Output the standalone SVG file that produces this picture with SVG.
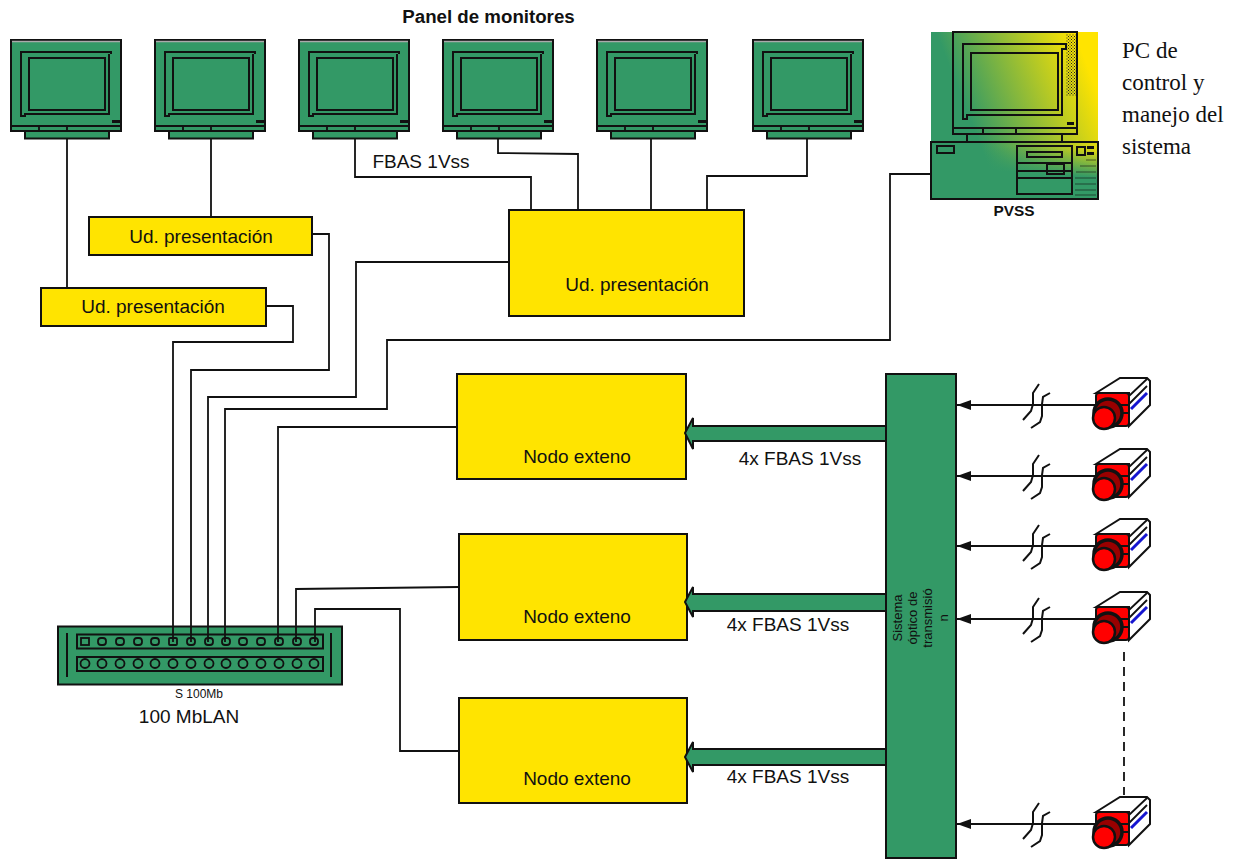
<svg xmlns="http://www.w3.org/2000/svg" width="1241" height="860" viewBox="0 0 1241 860">
<style>
.s{font-family:"Liberation Sans",Arial,sans-serif;fill:#111}
.y{fill:#ffe400;stroke:#111;stroke-width:2}
.g{fill:#339966;stroke:#111;stroke-width:2}
.l{fill:none;stroke:#111;stroke-width:1.8}
.k{fill:none;stroke:#111;stroke-width:2}
.t{font-size:19px}
</style>
<defs>
<linearGradient id="pcg" gradientUnits="userSpaceOnUse" x1="945" y1="55" x2="1065" y2="8"><stop offset="0" stop-color="#339966"/><stop offset="1" stop-color="#ffe400"/></linearGradient>
<linearGradient id="pcb" x1="0" y1="1" x2="0.2" y2="0"><stop offset="0.55" stop-color="#339966"/><stop offset="1" stop-color="#339966" stop-opacity="0"/></linearGradient>
<marker id="ah" markerWidth="14" markerHeight="10" refX="14" refY="5" orient="auto" markerUnits="userSpaceOnUse"><path d="M0,0L14,5L0,10Z" fill="#111"/></marker>
<pattern id="dith" width="3" height="3" patternUnits="userSpaceOnUse"><rect width="1" height="1" fill="#222"/><rect x="1.5" y="1.5" width="1" height="1" fill="#222"/></pattern>
<g id="mon">
<rect x="25" y="130" width="84" height="8.500" class="g"/>
<rect x="11" y="40" width="110" height="91" class="g"/>
<path d="M12,41.500H120" stroke="#aaa" stroke-width="1.500"/>
<path d="M11,126H121M39,126V131M67,126V131" class="l"/>
<path d="M111,54V52H21V116H25V114H109V54" class="k"/>
<rect x="29" y="58" width="76" height="52" class="k"/>
<rect x="112" y="120" width="8" height="3" fill="#111"/>
</g>
<g id="cam">
<path d="M1096,-12L1120,-27H1147L1150,-24V0L1129,21V-12Z" fill="#fff" stroke="#111" stroke-width="2"/>
<path d="M1129,-9L1147,-26M1129,-1L1147,-19" class="l"/>
<path d="M1131,4L1147,-12" stroke="#1515d0" stroke-width="3"/>
<rect x="1096" y="-12" width="33" height="33" rx="3" fill="#ff0000" stroke="#111" stroke-width="2"/>
<path d="M1096,0H1129M1122,8H1129" class="l"/>
<circle cx="1108" cy="8" r="14" fill="#900" stroke="#111" stroke-width="3.500"/>
<circle cx="1104" cy="13" r="11" fill="#ff0000" stroke="#111" stroke-width="2.500"/>
</g>
<g id="brk">
<path d="M1039,-21L1033,-12V-1L1031,6L1023,15M1050,-12L1043,-8L1042,-1V11L1040,17L1031,23" class="k"/>
</g>
</defs>
<rect width="1241" height="860" fill="#fff"/>

<g id="monitors">
<use href="#mon" id="monitor1"/>
<use href="#mon" x="144" id="monitor2"/>
<use href="#mon" x="288" id="monitor3"/>
<use href="#mon" x="432" id="monitor4"/>
<use href="#mon" x="586" id="monitor5"/>
<use href="#mon" x="742" id="monitor6"/>
<text x="488.500" y="23" class="s" font-size="18.700" font-weight="bold" text-anchor="middle">Panel de monitores</text>
</g>

<g id="pc">
<rect x="931" y="32" width="167" height="167" fill="url(#pcg)"/>
<rect x="931" y="142" width="167" height="57" fill="url(#pcb)"/>
<rect x="1066" y="34" width="12" height="62" fill="url(#dith)"/>
<rect x="953" y="32" width="124" height="102" class="k"/>
<path d="M1066,49V44H963V119H967V115H1062V49Z" class="k"/>
<rect x="971" y="53" width="87" height="57" class="k"/>
<path d="M953,128H1077M983,128V134M1016,128V134M967,134V142M1062,134V142" class="k"/>
<rect x="931" y="142" width="167" height="57" class="k"/>
<rect x="937" y="146" width="17" height="7" class="k"/>
<rect x="1017" y="146" width="55" height="48" class="k"/>
<rect x="1027" y="152" width="35" height="5" class="k"/>
<path d="M1017,163H1072M1017,171H1072M1017,178H1072" class="k"/>
<rect x="1047" y="164" width="17" height="10" class="k"/>
<rect x="1077" y="147" width="8" height="8" class="k"/>
<rect x="1087" y="146" width="7" height="3" fill="#111"/>
<rect x="1087" y="152" width="7" height="3" fill="#111"/>
<rect x="1067" y="122" width="7" height="3" fill="#111"/>
<path d="M1086,160H1096M1080,166H1096M1076,172H1096M1075,178H1096M1075,184H1096M1075,190H1096M1075,195H1096" stroke="#111" stroke-width=".6"/>
<text x="1014" y="216" class="s" font-size="15.400" font-weight="bold" text-anchor="middle">PVSS</text>
<g font-family="'Liberation Serif','Times New Roman',serif" font-size="23" fill="#111">
<text x="1122" y="58">PC de</text>
<text x="1122" y="90">control y</text>
<text x="1122" y="122">manejo del</text>
<text x="1122" y="154">sistema</text>
</g>
</g>

<g id="presentacion-1"><rect x="41" y="288" width="225" height="38" class="y"/><text x="153" y="313" class="s t" text-anchor="middle">Ud. presentación</text></g>
<g id="presentacion-2"><rect x="89" y="217" width="223" height="38" class="y"/><text x="201" y="243" class="s t" text-anchor="middle">Ud. presentación</text></g>
<g id="presentacion-3"><rect x="509" y="210" width="235" height="106" class="y"/><text x="637" y="291" class="s t" text-anchor="middle">Ud. presentación</text></g>

<g id="nodo-1"><rect x="457" y="374" width="229" height="105" class="y"/><text x="577" y="463" class="s t" text-anchor="middle">Nodo exteno</text></g>
<g id="nodo-2"><rect x="459" y="534" width="228" height="106" class="y"/><text x="577" y="623" class="s t" text-anchor="middle">Nodo exteno</text></g>
<g id="nodo-3"><rect x="459" y="698" width="228" height="105" class="y"/><text x="577" y="785" class="s t" text-anchor="middle">Nodo exteno</text></g>

<g id="sistema">
<rect x="886" y="374" width="70" height="484" class="g"/>
<g class="s" font-size="13" text-anchor="middle">
<text transform="translate(902,618) rotate(-90)">Sistema</text>
<text transform="translate(917,618) rotate(-90)">óptico de</text>
<text transform="translate(932,618) rotate(-90)">transmisió</text>
<text transform="translate(948,618) rotate(-90)">n</text>
</g>
</g>

<g id="switch">
<rect x="58" y="626.500" width="284" height="58" class="g"/>
<rect x="77" y="634.500" width="246" height="14" class="g"/>
<rect x="77" y="657" width="246" height="14" class="g"/>
<path d="M67,633V677M331,633V677" class="k"/>
<g class="l">
<rect x="81" y="638" width="8" height="7"/><rect x="98" y="638" width="8" height="7" rx="3"/><rect x="116" y="638" width="8" height="7" rx="3"/><rect x="134" y="638" width="8" height="7" rx="3"/><rect x="151" y="638" width="8" height="7" rx="3"/><rect x="169" y="638" width="8" height="7" rx="1"/><rect x="187" y="638" width="8" height="7" rx="3"/><rect x="205" y="638" width="8" height="7" rx="3"/><rect x="222" y="638" width="8" height="7" rx="3"/><rect x="239" y="638" width="8" height="7" rx="3"/><rect x="257" y="638" width="8" height="7" rx="3"/><rect x="275" y="638" width="8" height="7" rx="3"/><rect x="293" y="638" width="8" height="7" rx="3"/><rect x="310" y="638" width="8" height="7" rx="3"/>
<circle cx="85" cy="663.500" r="4.500"/><circle cx="102" cy="663.500" r="4.500"/><circle cx="120" cy="663.500" r="4.500"/><circle cx="138" cy="663.500" r="4.500"/><circle cx="155" cy="663.500" r="4.500"/><circle cx="173" cy="663.500" r="4.500"/><circle cx="191" cy="663.500" r="4.500"/><circle cx="209" cy="663.500" r="4.500"/><circle cx="226" cy="663.500" r="4.500"/><circle cx="243" cy="663.500" r="4.500"/><circle cx="261" cy="663.500" r="4.500"/><circle cx="279" cy="663.500" r="4.500"/><circle cx="297" cy="663.500" r="4.500"/><circle cx="314" cy="663.500" r="4.500"/>
</g>
<text x="199" y="698" class="s" font-size="12" text-anchor="middle">S 100Mb</text>
<text x="189" y="723" class="s t" text-anchor="middle">100 MbLAN</text>
</g>

<g id="connectors">
<path d="M67,138V288M211,138V217M355,138V177H531V210M498,138V153L578,154V210M651,138V210M807,138V176H707V210M312,234H329V370H191V642M266,306H293V342H173V642M509,262H356V397H208V642M931,174H890V340H387V409H225V642M458,427H278V642M459,587L296,589V642M459,751H400V609H315V642" class="l"/>
<path d="M1096,405H957" class="l" marker-end="url(#ah)"/>
<path d="M1096,476H957" class="l" marker-end="url(#ah)"/>
<path d="M1096,546H957" class="l" marker-end="url(#ah)"/>
<path d="M1096,619H957" class="l" marker-end="url(#ah)"/>
<path d="M1096,824H957" class="l" marker-end="url(#ah)"/>
<path d="M1124,652V795" class="l" stroke-dasharray="9 6"/>
</g>

<g id="flechas">
<path d="M886,426H693V418L685,433L693,449V441H886Z" class="g"/>
<path d="M886,594H693V587L685,602L693,617V611H886Z" class="g"/>
<path d="M886,749H693V742L685,757L693,772V765H886Z" class="g"/>
<text x="800" y="465" class="s t" text-anchor="middle">4x FBAS 1Vss</text>
<text x="788" y="631" class="s t" text-anchor="middle">4x FBAS 1Vss</text>
<text x="788" y="783" class="s t" text-anchor="middle">4x FBAS 1Vss</text>
<text x="421" y="168" class="s t" text-anchor="middle">FBAS 1Vss</text>
</g>

<g id="camaras">
<g id="cam1" transform="translate(0,405)"><use href="#cam"/><use href="#brk"/></g>
<g id="cam2" transform="translate(0,476)"><use href="#cam"/><use href="#brk"/></g>
<g id="cam3" transform="translate(0,546)"><use href="#cam"/><use href="#brk"/></g>
<g id="cam4" transform="translate(0,619)"><use href="#cam"/><use href="#brk"/></g>
<g id="cam5" transform="translate(0,824)"><use href="#cam"/><use href="#brk"/></g>
</g>
</svg>
